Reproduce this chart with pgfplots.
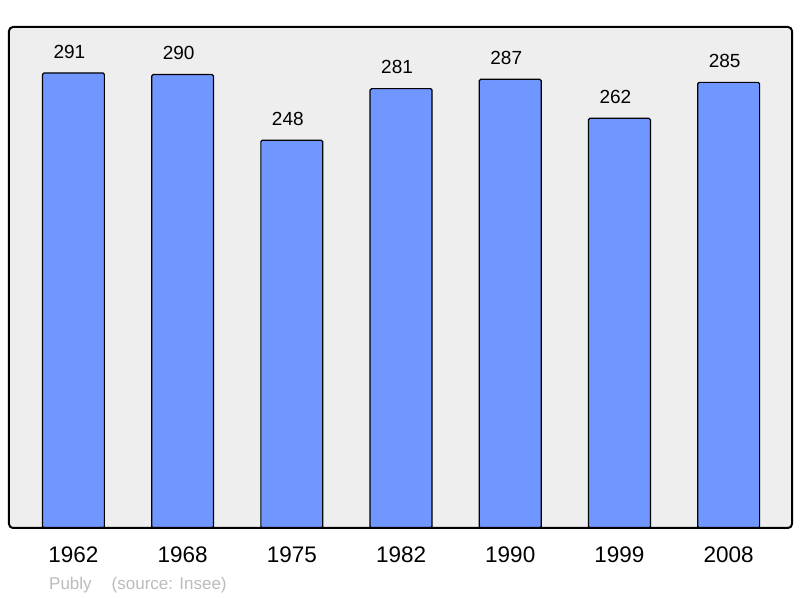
\documentclass[border=0pt]{standalone}
\usepackage{pgfplots}
\pgfplotsset{compat=1.18}
\usepackage{fontspec}
\setmainfont{Liberation Sans}
\definecolor{barblue}{HTML}{7096FF}
\definecolor{bggray}{HTML}{EEEEEE}
\definecolor{notegray}{HTML}{BBBBBB}

\begin{document}
\begin{tikzpicture}
\begin{axis}[
    scale only axis, width=783pt, height=501pt,
    xmin=-0.59, xmax=6.58, ymin=0, ymax=320.4,
    axis line style={draw=none},
    axis background/.style={fill=bggray, rounded corners=4pt},
    ybar, bar width=0.567,
    xtick=data, ytick=\empty,
    xticklabels={1962,1968,1975,1982,1990,1999,2008},
    major tick length=0pt,
    xticklabel style={font=\fontsize{22.5}{24}\selectfont, anchor=north, inner sep=0pt, yshift=-19pt},
    /pgf/number format/assume math mode=true,
    nodes near coords,
    nodes near coords style={font=\fontsize{19}{21}\selectfont, anchor=south, inner sep=0pt, yshift=14pt, xshift=-4pt},
    clip=false,
]
\addplot[fill=barblue, draw=black, line width=1.2pt, rounded corners=1.5pt] coordinates {
  (0,291) (1,290) (2,248) (3,281) (4,287) (5,262) (6,285)
};
\end{axis}
\draw[line width=2pt, rounded corners=4pt] (current axis.south west) rectangle (current axis.north east);
\node[anchor=base west, inner sep=0pt, text=notegray, font=\fontsize{17}{19}\selectfont]
  at ([xshift=40pt, yshift=-62pt]current axis.south west) {Publy\hspace{20pt}(source: Insee)};
\useasboundingbox ([xshift=-9pt, yshift=-70pt]current axis.south west) rectangle ([xshift=8pt, yshift=27pt]current axis.north east);
\end{tikzpicture}
\end{document}
